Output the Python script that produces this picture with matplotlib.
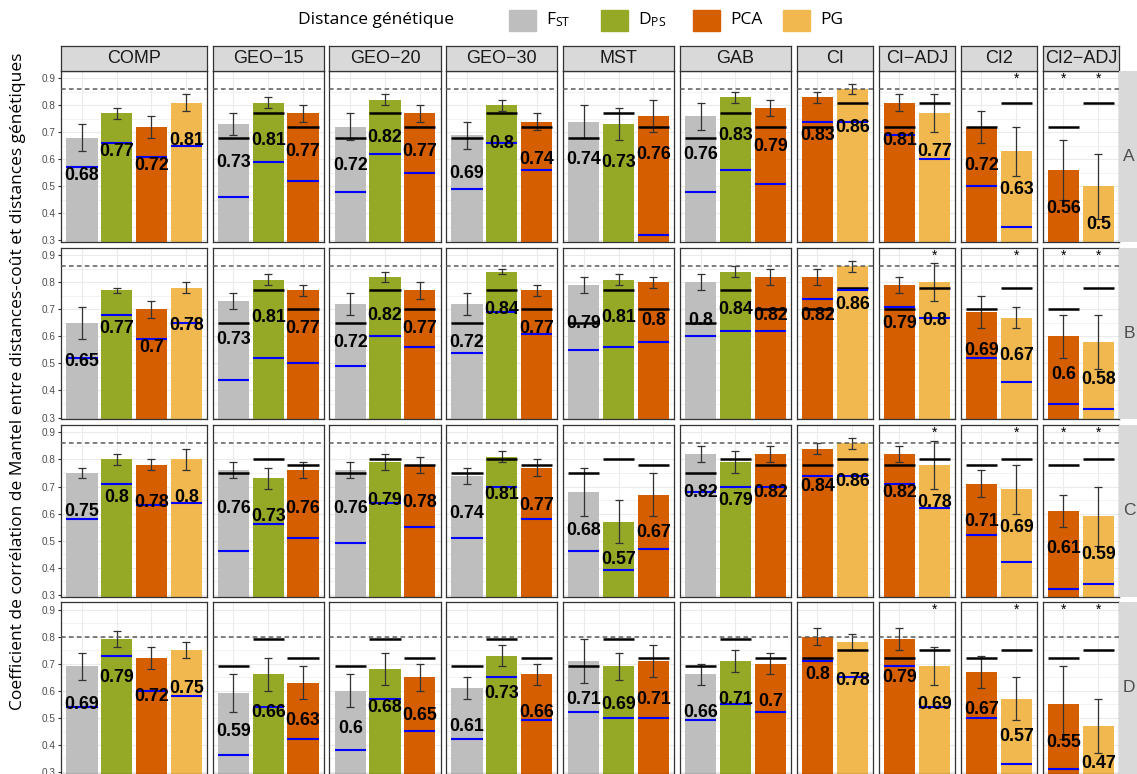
import numpy as np
import matplotlib
matplotlib.use("Agg")
import matplotlib.pyplot as plt
from matplotlib.patches import Rectangle

plt.rcParams['font.family'] = ['Liberation Sans', 'DejaVu Sans']
plt.rcParams['mathtext.fontset'] = 'custom'
plt.rcParams['mathtext.rm'] = 'Open Sans'
plt.rcParams['mathtext.it'] = 'Open Sans'

# facets (columns) and the distances shown in each
panels = ["COMP", "GEO\u221215", "GEO\u221220", "GEO\u221230", "MST", "GAB",
          "CI", "CI\u2212ADJ", "CI2", "CI2\u2212ADJ"]
panel_methods = [["FST", "DPS", "PCA", "PG"]] + [["FST", "DPS", "PCA"]] * 5 + [["PCA", "PG"]] * 4
rows = ["A", "B", "C", "D"]

# bar order: COMP(4) GEO-15(3) GEO-20(3) GEO-30(3) MST(3) GAB(3) CI(2) CI-ADJ(2) CI2(2) CI2-ADJ(2)
val_A = [0.68, 0.77, 0.72, 0.81, 0.73, 0.81, 0.77, 0.72, 0.82, 0.77, 0.69, 0.80, 0.74,
         0.74, 0.73, 0.76, 0.76, 0.83, 0.79, 0.83, 0.86, 0.81, 0.77, 0.72, 0.63, 0.56, 0.50]
lo_A = [0.63, 0.75, 0.68, 0.78, 0.69, 0.79, 0.74, 0.67, 0.80, 0.74, 0.64, 0.78, 0.71,
        0.68, 0.67, 0.70, 0.71, 0.81, 0.76, 0.81, 0.84, 0.78, 0.70, 0.66, 0.54, 0.45, 0.38]
hi_A = [0.73, 0.79, 0.76, 0.84, 0.77, 0.83, 0.80, 0.77, 0.84, 0.80, 0.74, 0.82, 0.77,
        0.80, 0.79, 0.82, 0.81, 0.85, 0.82, 0.85, 0.88, 0.84, 0.84, 0.78, 0.72, 0.67, 0.62]
blue_A = [0.57, 0.66, 0.61, 0.65, 0.46, 0.59, 0.52, 0.48, 0.62, 0.55, 0.49, 0.66, 0.56,
          None, None, 0.32, 0.48, 0.56, 0.51, 0.74, 0.74, 0.69, 0.60, 0.50, 0.35, None, None]

val_B = [0.65, 0.77, 0.70, 0.78, 0.73, 0.81, 0.77, 0.72, 0.82, 0.77, 0.72, 0.84, 0.77,
         0.79, 0.81, 0.80, 0.80, 0.84, 0.82, 0.82, 0.86, 0.79, 0.80, 0.69, 0.67, 0.60, 0.58]
lo_B = [0.59, 0.76, 0.67, 0.76, 0.70, 0.79, 0.75, 0.68, 0.80, 0.74, 0.68, 0.83, 0.75,
        0.76, 0.79, 0.78, 0.77, 0.82, 0.79, 0.79, 0.84, 0.76, 0.73, 0.63, 0.63, 0.52, 0.48]
hi_B = [0.71, 0.78, 0.73, 0.80, 0.76, 0.83, 0.79, 0.76, 0.84, 0.80, 0.76, 0.85, 0.79,
        0.82, 0.83, 0.82, 0.83, 0.86, 0.85, 0.85, 0.88, 0.82, 0.87, 0.75, 0.71, 0.68, 0.68]
blue_B = [0.52, 0.68, 0.59, 0.65, 0.44, 0.52, 0.50, 0.49, 0.60, 0.56, 0.54, 0.69, 0.61,
          0.55, 0.56, 0.58, 0.60, 0.62, 0.62, 0.74, 0.77, 0.71, 0.67, 0.52, 0.43, 0.35, 0.33]

val_C = [0.75, 0.80, 0.78, 0.80, 0.76, 0.73, 0.76, 0.76, 0.79, 0.78, 0.74, 0.81, 0.77,
         0.68, 0.57, 0.67, 0.82, 0.79, 0.82, 0.84, 0.86, 0.82, 0.78, 0.71, 0.69, 0.61, 0.59]
lo_C = [0.73, 0.78, 0.76, 0.76, 0.73, 0.69, 0.73, 0.73, 0.76, 0.75, 0.71, 0.79, 0.74,
        0.59, 0.49, 0.59, 0.79, 0.75, 0.79, 0.82, 0.84, 0.79, 0.69, 0.66, 0.60, 0.55, 0.48]
hi_C = [0.77, 0.82, 0.80, 0.84, 0.79, 0.77, 0.79, 0.79, 0.82, 0.81, 0.77, 0.83, 0.80,
        0.77, 0.65, 0.75, 0.85, 0.83, 0.85, 0.86, 0.88, 0.85, 0.87, 0.76, 0.78, 0.67, 0.70]
blue_C = [0.58, 0.71, 0.63, 0.64, 0.46, 0.56, 0.51, 0.49, 0.64, 0.55, 0.51, 0.70, 0.58,
          0.46, 0.39, 0.47, 0.68, 0.70, 0.70, 0.74, 0.74, 0.71, 0.62, 0.52, 0.42, 0.32, 0.34]

val_D = [0.69, 0.79, 0.72, 0.75, 0.59, 0.66, 0.63, 0.60, 0.68, 0.65, 0.61, 0.73, 0.66,
         0.71, 0.69, 0.71, 0.66, 0.71, 0.70, 0.80, 0.78, 0.79, 0.69, 0.67, 0.57, 0.55, 0.47]
lo_D = [0.64, 0.76, 0.68, 0.72, 0.52, 0.60, 0.57, 0.54, 0.62, 0.60, 0.57, 0.69, 0.62,
        0.63, 0.64, 0.65, 0.62, 0.67, 0.66, 0.77, 0.75, 0.75, 0.62, 0.61, 0.49, 0.42, 0.37]
hi_D = [0.74, 0.82, 0.76, 0.78, 0.66, 0.72, 0.69, 0.66, 0.74, 0.70, 0.65, 0.77, 0.70,
        0.79, 0.74, 0.77, 0.70, 0.75, 0.74, 0.83, 0.81, 0.83, 0.76, 0.73, 0.65, 0.69, 0.57]
blue_D = [0.54, 0.73, 0.60, 0.58, 0.36, 0.54, 0.42, 0.38, 0.57, 0.45, 0.42, 0.65, 0.49,
          0.52, 0.50, 0.50, 0.49, 0.55, 0.52, 0.71, 0.65, 0.69, 0.54, 0.50, 0.33, 0.31, None]

# dashed reference per row
dash_lines = [0.86, 0.86, 0.86, 0.80]

# significance stars (panel, method)
stars_A = [("CI2", "PG"), ("CI2\u2212ADJ", "PCA"), ("CI2\u2212ADJ", "PG")]
stars_B = [("CI\u2212ADJ", "PG"), ("CI2", "PG"), ("CI2\u2212ADJ", "PCA"), ("CI2\u2212ADJ", "PG")]
stars_C = stars_B
stars_D = stars_B

data = {
    "A": (val_A, lo_A, hi_A, blue_A, stars_A),
    "B": (val_B, lo_B, hi_B, blue_B, stars_B),
    "C": (val_C, lo_C, hi_C, blue_C, stars_C),
    "D": (val_D, lo_D, hi_D, blue_D, stars_D),
}

colors = {"FST": "#BEBEBE", "DPS": "#96A927", "PCA": "#D55E00", "PG": "#F1B84F"}
leg_labels = {"FST": r"F$_{\mathrm{ST}}$", "DPS": r"D$_{\mathrm{PS}}$", "PCA": "PCA", "PG": "PG"}

W, H = 1137, 774
fig = plt.figure(figsize=(W / 100, H / 100), dpi=100)


def rect(left, top, width, height):
    return [left / W, 1 - (top + height) / H, width / W, height / H]


unit = 34.78
gap = 5.5
x0 = 61.0
row_top0 = 70.7
row_h = 171.6
row_gap = 5.5
strip_h = 24.6
ylim = (0.293, 0.928)

# column geometry
cols = []
x = x0
for m in panel_methods:
    w = (len(m) + 0.2) * unit
    cols.append((x, w))
    x += w + gap
right_edge = cols[-1][0] + cols[-1][1]

for r, row in enumerate(rows):
    vals, lo, hi, blue, stars = data[row]
    top = row_top0 + r * (row_h + row_gap)
    comp_ref = dict(zip(panel_methods[0], vals[:4]))
    k = 0
    for c, (p, meths) in enumerate(zip(panels, panel_methods)):
        n = len(meths)
        v = np.array(vals[k:k + n])
        l = np.array(lo[k:k + n])
        h = np.array(hi[k:k + n])
        b = blue[k:k + n]
        k += n
        left, w = cols[c]
        ax = fig.add_axes(rect(left, top, w, row_h))
        xs = np.arange(1, n + 1)
        ax.set_xlim(0.4, n + 0.6)
        ax.set_ylim(*ylim)
        ax.set_xticks(xs)
        ax.set_yticks(np.arange(0.3, 0.95, 0.1))
        ax.set_yticks(np.arange(0.35, 0.9, 0.1), minor=True)
        ax.grid(which='major', color='#EBEBEB', lw=0.8)
        ax.grid(which='minor', axis='y', color='#EBEBEB', lw=0.45)
        ax.set_axisbelow(True)
        ax.tick_params(axis='x', length=0, labelbottom=False)
        ax.tick_params(axis='y', which='minor', length=0)
        if c == 0:
            ax.tick_params(axis='y', length=2.5, color='#333333', width=0.8,
                           labelsize=7.2, labelcolor='#4D4D4D', pad=1.5)
            ax.set_yticklabels([f"{t:.1f}" for t in np.arange(0.3, 0.95, 0.1)])
        else:
            ax.tick_params(axis='y', length=0, labelleft=False)
        for s in ax.spines.values():
            s.set_color('#333333')
            s.set_linewidth(0.9)

        ax.bar(xs, v, width=0.9, color=[colors[m] for m in meths], zorder=2)
        ax.errorbar(xs, v, yerr=[v - l, h - v], fmt='none', ecolor='#333333',
                    elinewidth=0.9, capsize=2.6, capthick=0.9, zorder=3)
        ax.axhline(dash_lines[r], color='#5A5A5A', lw=1.1, ls=(0, (3, 2.2)), zorder=3.5)
        for i, m in enumerate(meths):
            if p != "COMP":
                ax.hlines(comp_ref[m], xs[i] - 0.45, xs[i] + 0.45, color='black', lw=1.8, zorder=4)
            if b[i] is not None:
                ax.hlines(b[i], xs[i] - 0.45, xs[i] + 0.45, color='blue', lw=1.5, zorder=5)
            ax.text(xs[i], v[i] - 0.141, f"{v[i]:g}", ha='center', va='center',
                    fontsize=12.8, fontweight='bold', color='black', zorder=6)
            if (p, m) in stars:
                ax.text(xs[i], 0.898, "*", ha='center', va='center', fontsize=10, zorder=6)

        # column strips on top
        if r == 0:
            sax = fig.add_axes(rect(left, row_top0 - strip_h, w, strip_h))
            sax.set_facecolor('#D9D9D9')
            sax.set_xticks([])
            sax.set_yticks([])
            for s in sax.spines.values():
                s.set_color('#333333')
                s.set_linewidth(0.9)
            sax.text(0.5, 0.48, p, transform=sax.transAxes, ha='center', va='center',
                     fontsize=13, color='#1A1A1A')

    # row strip on the right
    rax = fig.add_axes(rect(right_edge, top, 20, row_h))
    rax.set_facecolor('#D9D9D9')
    rax.set_xticks([])
    rax.set_yticks([])
    for s in rax.spines.values():
        s.set_visible(False)
    rax.text(0.5, 0.5, row, transform=rax.transAxes, ha='center', va='center',
             fontsize=12.5, color='#4D4D4D')

# y axis title
fig.text(18 / W, 1 - 381 / H,
         "Coefficient de corrélation de Mantel entre distances-coût et distances génétiques",
         rotation=90, ha='center', va='center', fontsize=12.5, family='Open Sans', color='black')

# legend
fig.text(298 / W, 1 - 20 / H, "Distance génétique", ha='left', va='center',
         fontsize=12.5, family='Open Sans')
key_x = [509, 601, 693, 783]
for kx, m in zip(key_x, ["FST", "DPS", "PCA", "PG"]):
    fig.patches.append(Rectangle((kx / W, 1 - 31 / H), 27 / W, 21 / H,
                                 transform=fig.transFigure, color=colors[m]))
    fig.text((kx + 37) / W, 1 - 20 / H, leg_labels[m], ha='left', va='center',
             fontsize=12.5, family='Open Sans')

fig.savefig("out.png", dpi=100)
